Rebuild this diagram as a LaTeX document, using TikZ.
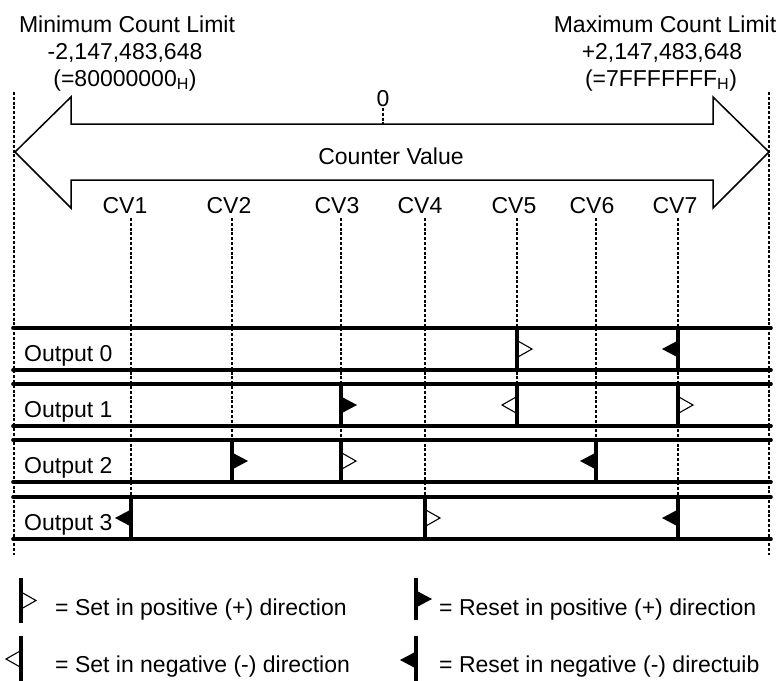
\documentclass[tikz,border=0pt]{standalone}
\usepackage{fontspec}
\setmainfont{Liberation Sans}
\tikzset{
  setR/.pic={\draw[line width=1.1pt, line join=miter] (0,-8.5) -- (15,0) -- (0,8.5);},
  setL/.pic={\draw[line width=1.1pt, line join=miter] (0,-8.5) -- (-15,0) -- (0,8.5);},
  resetR/.pic={\fill (0,-8.5) -- (16,0) -- (0,8.5) -- cycle;},
  resetL/.pic={\fill (0,-8.5) -- (-16,0) -- (0,8.5) -- cycle;},
}
\newcommand{\myflag}[4]{% x, top y, bottom y, pic
  \draw[pole] (#1,#2) -- (#1,#3);
  \pic at (#1,{(#2+#3)/2}) {#4};}
\begin{document}
\begin{tikzpicture}[x=1pt,y=-1pt,
  txt/.style={font=\fontsize{23}{27}\selectfont, inner sep=0pt},
  cvline/.style={line width=1.1pt, dash pattern=on 3pt off 1.8pt},
  rowline/.style={line width=3.6pt, line cap=round},
  pole/.style={line width=3.8pt},
  bigarrow/.style={line width=1.5pt, line join=miter}]
\useasboundingbox (0,0) rectangle (783,680);

% top labels
\node[txt, anchor=base] (minlbl) at (127,32) {Minimum Count Limit};
\node[txt, anchor=base] (minval) at (125,59) {-2,147,483,648};
\node[txt, anchor=base] (minhex) at (125,86) {(=80000000\textsubscript{H})};
\node[txt, anchor=base] (maxlbl) at (665,32) {Maximum Count Limit};
\node[txt, anchor=base] (maxval) at (662,59) {+2,147,483,648};
\node[txt, anchor=base] (maxhex) at (661,86) {(=7FFFFFFF\textsubscript{H})};

% outer dashed limits
\coordinate (lt) at (14,92);  \coordinate (lb) at (14,555);
\coordinate (rt) at (769,92); \coordinate (rb) at (769,555);
\draw[cvline] (lt) -- (lb);
\draw[cvline] (rt) -- (rb);

% big double arrow
\draw[bigarrow, fill=white] (15,152) -- (71,97) -- (71,124) -- (713,124) -- (713,97)
  -- (769,152) -- (713,208) -- (713,180) -- (71,180) -- (71,208) -- cycle;

% zero
\node[txt, anchor=base] (zero) at (383,106) {0};
\coordinate (zt) at (383,108); \coordinate (zb) at (383,124);
\draw[cvline] (zt) -- (zb);
\node[txt, anchor=base] (cval) at (391,164) {Counter Value};

% CV labels and dashed lines
\node[txt, anchor=base] (cv1) at (125,213) {CV1};
\node[txt, anchor=base] (cv2) at (229,213) {CV2};
\node[txt, anchor=base] (cv3) at (337,213) {CV3};
\node[txt, anchor=base] (cv4) at (420,213) {CV4};
\node[txt, anchor=base] (cv5) at (514,213) {CV5};
\node[txt, anchor=base] (cv6) at (592,213) {CV6};
\node[txt, anchor=base] (cv7) at (675,213) {CV7};
\coordinate (c1t) at (131,218); \coordinate (c1b) at (131,497);
\coordinate (c2t) at (232,218); \coordinate (c2b) at (232,440);
\coordinate (c3t) at (341,218); \coordinate (c3b) at (341,440);
\coordinate (c4t) at (425,218); \coordinate (c4b) at (425,497);
\coordinate (c5t) at (517,218); \coordinate (c5b) at (517,384);
\coordinate (c6t) at (596,218); \coordinate (c6b) at (596,440);
\coordinate (c7t) at (678,218); \coordinate (c7b) at (678,497);
\foreach \i in {1,...,7} {\draw[cvline] (c\i t) -- (c\i b);}

% rows
\foreach \t/\b in {328/370, 384/426, 440/482, 497/539} {
  \draw[rowline] (13,\t) -- (771,\t);
  \draw[rowline] (13,\b) -- (771,\b);
}
\node[txt, anchor=base west] (o0) at (24,361) {Output 0};
\node[txt, anchor=base west] (o1) at (24,417) {Output 1};
\node[txt, anchor=base west] (o2) at (24,473) {Output 2};
\node[txt, anchor=base west] (o3) at (24,530) {Output 3};

% flags
\myflag{517}{328}{370}{setR}
\myflag{678}{328}{370}{resetL}
\myflag{341}{384}{426}{resetR}
\myflag{517}{384}{426}{setL}
\myflag{678}{384}{426}{setR}
\myflag{232}{440}{482}{resetR}
\myflag{341}{440}{482}{setR}
\myflag{596}{440}{482}{resetL}
\myflag{131}{497}{539}{resetL}
\myflag{425}{497}{539}{setR}
\myflag{678}{497}{539}{resetL}

% legend
\myflag{21}{578}{623}{setR}
\node[txt, anchor=base west] (lg1) at (55,615) {= Set in positive (+) direction};
\myflag{21}{636}{682}{setL}
\node[txt, anchor=base west] (lg2) at (55,672) {= Set in negative (-) direction};
\myflag{416}{578}{620}{resetR}
\node[txt, anchor=base west] (lg3) at (439,615) {= Reset in positive (+) direction};
\myflag{416}{636}{684}{resetL}
\node[txt, anchor=base west] (lg4) at (439,672) {= Reset in negative (-) directuib};
\end{tikzpicture}
\end{document}
